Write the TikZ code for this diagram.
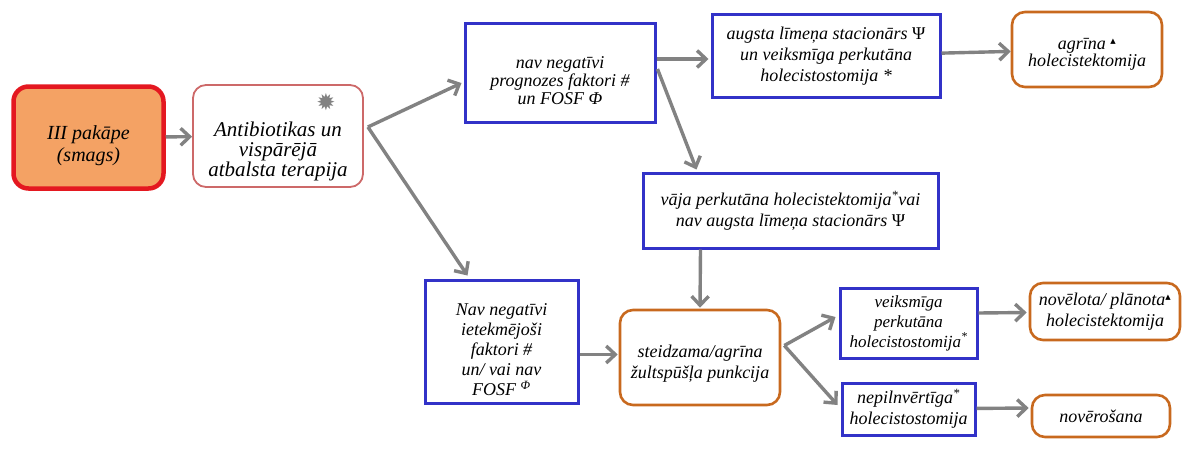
\documentclass[tikz,border=0pt]{standalone}
\usepackage{fontspec}
\setmainfont{Liberation Serif}
\newfontfamily\symfont{DejaVu Sans}
\usetikzlibrary{arrows.meta,calc}

\definecolor{boxblue}{RGB}{50,50,200}
\definecolor{boxorange}{RGB}{200,105,30}
\definecolor{stagefill}{RGB}{244,162,100}
\definecolor{stagered}{RGB}{228,24,32}
\definecolor{pinkline}{RGB}{205,105,105}
\definecolor{arrgray}{RGB}{130,130,130}

\newcommand{\tri}{\textsuperscript{\symfont\scriptsize ▲}}
\newcommand{\snow}{{\symfont\fontsize{23}{23}\selectfont\color{arrgray}✹}}

\begin{document}
\begin{tikzpicture}[x=1pt,y=-1pt,
  every node/.style={font=\fontsize{18}{21}\selectfont\itshape, align=center, inner sep=2pt},
  bluebox/.style={draw=boxblue, line width=3pt},
  orangebox/.style={draw=boxorange, line width=2.6pt, rounded corners=13pt},
  arr/.style={draw=arrgray, line width=3.4pt, -{Straight Barb[length=9pt,width=17pt]}}
]
  \useasboundingbox (0,0) rectangle (1183,452);

  % left part
  \node[draw=stagered, fill=stagefill, line width=4.5pt, rounded corners=15pt,
        minimum width=150pt, minimum height=102pt] (stage) at (88.5,137.5) {};
  \node[font=\fontsize{20}{22}\selectfont\itshape] (stagetext) at ($(stage)+(0,8)$) {III pakāpe\\(smags)};
  \node[draw=pinkline, line width=1.8pt, rounded corners=13pt,
        minimum width=170pt, minimum height=102pt] (antib) at (278,136) {};
  \node[font=\fontsize{21}{20}\selectfont\itshape] (antibtext) at ($(antib)+(0,15)$)
    {Antibiotikas un\\vispārējā\\atbalsta terapija};
  \node (snow) at (326,102) {\snow};

  % upper branch
  \node[bluebox, minimum width=190pt, minimum height=98pt] (navA) at (560,73) {};
  \node[font=\fontsize{18}{18}\selectfont\itshape] (navAtext) at ($(navA)+(0,8)$)
    {nav negatīvi\\prognozes faktori \#\\un FOSF Φ};
  \node[bluebox, minimum width=228pt, minimum height=82pt] (augsta) at (826,56)
    {augsta līmeņa stacionārs {\upshape Ψ}\\un veiksmīga perkutāna\\holecistostomija *};
  \node[orangebox, minimum width=150pt, minimum height=75pt] (agrina) at (1087,49.5) {};
  \node[font=\fontsize{18}{17}\selectfont\itshape] (agrinatext) at ($(agrina)+(0,5)$)
    {agrīna \tri\\holecistektomija};
  \node[bluebox, minimum width=295pt, minimum height=75pt] (vaja) at (790.5,210.5)
    {vāja perkutāna holecistektomija\textsuperscript{*}vai\\nav augsta līmeņa stacionārs {\upshape Ψ}};

  % lower branch
  \node[bluebox, minimum width=153pt, minimum height=123pt] (navB) at (501.5,341.5) {};
  \node[font=\fontsize{18}{20}\selectfont\itshape] (navBtext) at ($(navB)+(0,8)$)
    {Nav negatīvi\\ietekmējoši\\faktori \#\\un/ vai nav\\FOSF \textsuperscript{Φ}};
  \node[orangebox, minimum width=160pt, minimum height=95pt] (steidz) at (700,357.5) {};
  \node (steidztext) at ($(steidz)+(0,6)$) {steidzama/agrīna\\žultspūšļa punkcija};
  \node[bluebox, minimum width=137pt, minimum height=70pt, font=\fontsize{17}{20}\selectfont\itshape]
    (veiksm) at (908.5,323)
    {veiksmīga\\perkutāna\\holecistostomija\textsuperscript{*}};
  \node[orangebox, minimum width=150pt, minimum height=57pt] (novelota) at (1105,311.5)
    {novēlota/ plānota\tri\\holecistektomija};
  \node[bluebox, minimum width=133pt, minimum height=52pt] (nepiln) at (908.5,409)
    {nepilnvērtīga\textsuperscript{*}\\holecistostomija};
  \node[orangebox, minimum width=138pt, minimum height=42pt] (noveros) at (1101,416)
    {novērošana};

  % split points
  \coordinate (antibsplit) at ($(antib.east)+(4,-9)$);
  \coordinate (steidzsplit) at ($(steidz.east)+(3,-12)$);

  % connectors
  \draw[arr] (stage) -- (antib);
  \draw[arr] (antibsplit) -- ($(navA.west)+(-2,10)$);
  \draw[arr] (antibsplit) -- ($(navB.north)+(-34,-3)$);
  \draw[arr] ($(navA.east)+(0,-14)$) -- ($(augsta.west)+(-2,3)$);
  \draw[arr] ($(navA.east)+(1,-4)$) -- ($(vaja.north)+(-94,-2)$);
  \draw[arr] (augsta) -- (agrina);
  \draw[arr] ($(vaja.south)+(-90,0)$) -- ($(steidz.north)+(0,-1)$);
  \draw[arr] ($(navB.east)+(0,13)$) -- ($(steidz.west)+(-1,-3)$);
  \draw[arr] (steidzsplit) -- ($(veiksm.west)+(-3,-6)$);
  \draw[arr] (steidzsplit) -- ($(nepiln.west)+(-3,-4)$);
  \draw[arr] ($(veiksm.east)+(0,-10)$) -- ($(novelota.west)+(-2,1)$);
  \draw[arr] (nepiln) -- ($(noveros.west)+(-2,-8)$);
\end{tikzpicture}
\end{document}
